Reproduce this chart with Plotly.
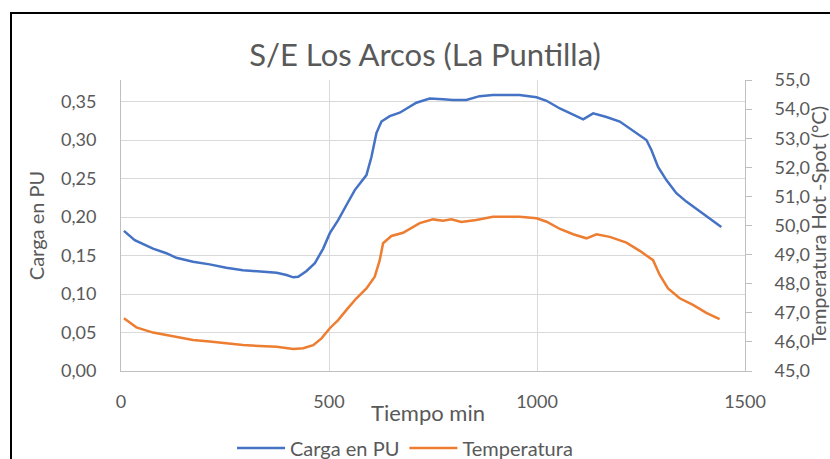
import plotly.graph_objects as go

# ---- data ----
tiempo_carga = [7, 33, 77, 109, 133, 173, 213, 253, 293, 333, 374, 398, 414, 426, 446, 466,
                486, 502, 522, 542, 562, 590, 602, 614, 626, 646, 670, 710, 742, 774, 798,
                830, 862, 894, 926, 958, 999, 1023, 1055, 1087, 1111, 1135, 1167, 1199, 1223,
                1263, 1275, 1291, 1311, 1335, 1359, 1391, 1415, 1443]
carga_pu = [0.182, 0.170, 0.159, 0.153, 0.147, 0.142, 0.1385, 0.134, 0.131, 0.1295, 0.1277,
            0.1247, 0.1217, 0.1225, 0.130, 0.140, 0.159, 0.179, 0.196, 0.2156, 0.235, 0.2545,
            0.278, 0.309, 0.324, 0.331, 0.3355, 0.3485, 0.354, 0.353, 0.352, 0.352, 0.357,
            0.3585, 0.3585, 0.3585, 0.3555, 0.351, 0.341, 0.3325, 0.327, 0.3347, 0.330, 0.324,
            0.315, 0.300, 0.287, 0.265, 0.248, 0.231, 0.220, 0.207, 0.198, 0.187]

tiempo_temp = [7, 37, 77, 133, 173, 213, 253, 293, 333, 374, 414, 438, 462, 482, 502, 522,
               542, 566, 590, 610, 622, 630, 650, 678, 718, 750, 774, 794, 818, 854, 894, 926,
               958, 999, 1023, 1055, 1087, 1119, 1143, 1175, 1215, 1247, 1279, 1295, 1315,
               1343, 1375, 1407, 1439]
temperatura = [46.81, 46.50, 46.32, 46.16, 46.065, 46.01, 45.95, 45.89, 45.86, 45.835, 45.76,
               45.78, 45.89, 46.12, 46.47, 46.75, 47.10, 47.50, 47.84, 48.24, 48.81, 49.39,
               49.64, 49.75, 50.08, 50.21, 50.165, 50.21, 50.12, 50.19, 50.30, 50.30, 50.30,
               50.25, 50.13, 49.88, 49.70, 49.56, 49.70, 49.61, 49.41, 49.13, 48.81, 48.30,
               47.84, 47.50, 47.27, 47.00, 46.78]

titulo = "S/E Los Arcos (La Puntilla)"
FONT = "Lato, Open Sans, sans-serif"
GREY = "#595959"
GRID = "#d9d9d9"
AXIS = "#bfbfbf"

fig = go.Figure()
fig.add_trace(go.Scatter(x=tiempo_carga, y=carga_pu, name="Carga en PU", mode="lines",
                         line=dict(color="#4472C4", width=2.5), yaxis="y"))
fig.add_trace(go.Scatter(x=tiempo_temp, y=temperatura, name="Temperatura", mode="lines",
                         line=dict(color="#ED7D31", width=2.5), yaxis="y2"))

W, H = 830, 459
L, R, T, B = 121, 85, 80, 88
pw, ph = W - L - R, H - T - B

def px_x(p):
    return (p - L) / pw

def px_y(p):
    return (H - B - p) / ph

fig.update_layout(
    width=W, height=H,
    margin=dict(l=L, r=R, t=T, b=B, autoexpand=False),
    paper_bgcolor="white", plot_bgcolor="white",
    separators=",.",
    font=dict(family=FONT, color=GREY, size=18),
    title=dict(text=titulo, x=425 / W, xref="container", xanchor="center",
               y=1 - 55 / H, yanchor="middle",
               font=dict(size=31, color=GREY, family=FONT)),
    showlegend=True,
    legend=dict(orientation="h", x=px_x(405), xanchor="center", y=px_y(448), yanchor="middle",
                font=dict(size=20, color=GREY, family=FONT), itemwidth=48,
                bgcolor="rgba(0,0,0,0)"),
    xaxis=dict(range=[0, 1500], dtick=500, tick0=0, showgrid=True, gridcolor=GRID, gridwidth=1,
               showline=True, linecolor=AXIS, linewidth=1, zeroline=False, ticks="",
               ticklabelstandoff=14, tickfont=dict(size=18, color=GREY, family=FONT)),
    yaxis=dict(range=[0, 0.378], dtick=0.05, tick0=0, tickformat=".2f", showgrid=True,
               gridcolor=GRID, gridwidth=1, showline=True, linecolor=AXIS, linewidth=1,
               zeroline=False, ticks="", ticklabelstandoff=20,
               tickfont=dict(size=18, color=GREY, family=FONT),
               title=dict(text="Carga en PU", standoff=10,
                          font=dict(size=20, color=GREY, family=FONT))),
    yaxis2=dict(range=[45, 55], dtick=1, tick0=45, tickformat=".1f", overlaying="y", side="right",
                showgrid=False, showline=True, linecolor=AXIS, linewidth=1, zeroline=False,
                ticks="outside", ticklen=6, tickcolor=AXIS, ticklabelstandoff=19,
                tickfont=dict(size=18, color=GREY, family=FONT),
                title=dict(text="Temperatura Hot -Spot (°C)", standoff=11,
                           font=dict(size=20, color=GREY, family=FONT))),
    annotations=[dict(text="Tiempo min", xref="paper", yref="paper", x=px_x(428), y=px_y(412),
                      xanchor="center", yanchor="middle", showarrow=False,
                      font=dict(size=22, color=GREY, family=FONT))],
    shapes=[dict(type="rect", xref="paper", yref="paper", x0=px_x(11), y0=px_y(900),
                 x1=px_x(1200), y1=px_y(13), line=dict(color="black", width=2),
                 fillcolor="rgba(0,0,0,0)", layer="above")],
)

fig.write_html("out.html", config={"displayModeBar": False},
               post_script="document.body.style.margin='0';document.body.style.overflow='hidden';")
